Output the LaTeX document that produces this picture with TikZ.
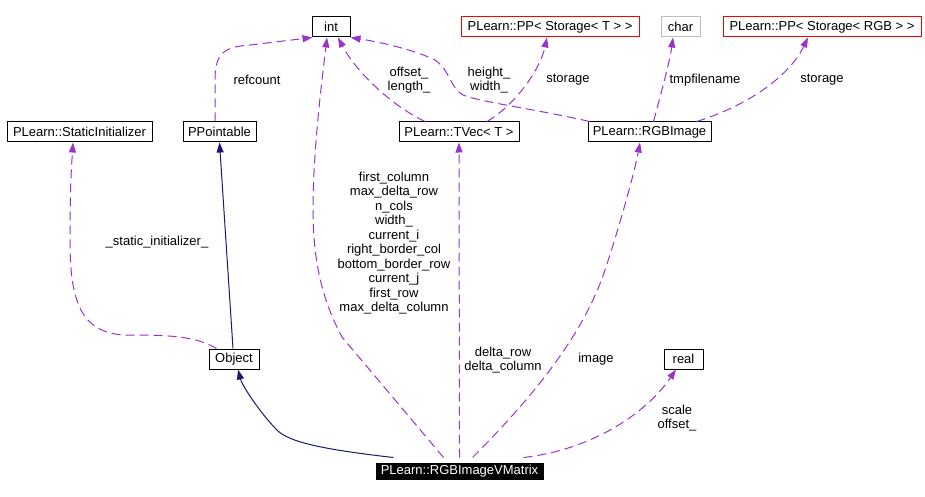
\documentclass[tikz,border=0pt]{standalone}
\usepackage{fontspec}
\setmainfont{Liberation Sans}
\usetikzlibrary{arrows.meta}
\definecolor{dorchid}{HTML}{9A32CD}
\definecolor{mblue}{HTML}{191970}
\begin{document}
\begin{tikzpicture}[x=1pt,y=-1pt,
  cls/.style={draw=black, line width=1pt, minimum height=20pt, inner sep=0pt, font=\fontsize{13}{14.5}\selectfont, text=black},
  redcls/.style={cls, draw=red},
  graycls/.style={cls, draw=black!25},
  mainnode/.style={cls, fill=black, text=white, minimum height=16pt},
  usage/.style={draw=dorchid, line width=1pt, dash pattern=on 9pt off 5pt, -{Triangle[length=10pt,width=7pt]}},
  inherit/.style={draw=mblue, line width=1pt, -{Triangle[length=10pt,width=7pt]}},
  lbl/.style={font=\fontsize{13}{14.5}\selectfont, align=center, inner sep=0pt, text=black}]
\useasboundingbox (0,0) rectangle (925,497);
% nodes
\node[cls, minimum width=38pt] (int) at (331,27) {int};
\node[redcls, minimum width=178pt] (ppT) at (550,27) {PLearn::PP< Storage< T > >};
\node[graycls, minimum width=39pt] (char) at (680.5,27) {char};
\node[redcls, minimum width=198pt] (ppRGB) at (822,27) {PLearn::PP< Storage< RGB > >};
\node[cls, minimum width=145pt] (static) at (79.5,132) {PLearn::StaticInitializer};
\node[cls, minimum width=73pt] (ppointable) at (219.5,132) {PPointable};
\node[cls, minimum width=120pt] (tvec) at (459,132) {PLearn::TVec< T >};
\node[cls, minimum width=123pt] (rgbimage) at (649.5,132) {PLearn::RGBImage};
\node[cls, minimum width=50pt] (object) at (234,359) {Object};
\node[cls, minimum width=39pt] (real) at (683.5,359) {real};
\node[mainnode, minimum width=167pt] (vmat) at (459.5,471) {PLearn::RGBImageVMatrix};
% edges
\draw[usage] ([xshift=-4.5pt]ppointable.north) -- (215,80) .. controls (215,52) and (225,47) .. (250,45) -- ([xshift=1pt]int.south west);
\draw[usage] ([xshift=8pt]object.north west) .. controls (195,336) and (170,335) .. (125,335) .. controls (80,333) and (70,300) .. (70,240) .. controls (70,180) and (72,160) .. ([xshift=-6.5pt]static.south);
\draw[inherit] ([xshift=-1pt]object.north) -- (ppointable.south);
\draw[inherit] ([xshift=-66pt,yshift=5pt]vmat.north) .. controls (310,448) and (285,440) .. (275,428) .. controls (258,410) and (242,385) .. ([xshift=4pt]object.south);
\draw[usage] ([xshift=-16pt,yshift=5pt]vmat.north) -- (342,337) .. controls (322,300) and (313,260) .. (313,210) .. controls (313,150) and (322,80) .. ([xshift=-4pt]int.south);
\draw[usage] ([yshift=5pt]vmat.north) -- (tvec.south);
\draw[usage] ([xshift=13pt,yshift=5pt]vmat.north) .. controls (540,390) and (585,330) .. (605,270) .. controls (620,225) and (635,170) .. ([xshift=-9.5pt]rgbimage.south);
\draw[usage] ([xshift=-20pt,yshift=5pt]vmat.north east) .. controls (590,450) and (645,415) .. ([xshift=-7.5pt]real.south);
\draw[usage] ([xshift=-34pt]tvec.north) .. controls (390,105) and (355,70) .. ([xshift=7pt]int.south);
\draw[usage] ([xshift=28pt]tvec.north) .. controls (515,105) and (540,70) .. ([xshift=-3pt]ppT.south);
\draw[usage] ([xshift=-60pt]rgbimage.north) .. controls (540,110) and (480,102) .. (463,95) .. controls (450,88) and (450,70) .. (435,60) .. controls (415,50) and (380,42) .. (int.south east);
\draw[usage] ([xshift=4pt]rgbimage.north) .. controls (662,90) and (670,60) .. ([xshift=-7.5pt]char.south);
\draw[usage] ([xshift=47pt]rgbimage.north) .. controls (750,105) and (790,75) .. ([xshift=-14pt]ppRGB.south);
% labels
\node[lbl] (l1) at (257,80) {refcount};
\node[lbl] (l2) at (157,242) {\_static\_initializer\_};
\node[lbl] (l3) at (394,243) {first\_column\\max\_delta\_row\\n\_cols\\width\_\\current\_i\\right\_border\_col\\bottom\_border\_row\\current\_j\\first\_row\\max\_delta\_column};
\node[lbl] (l4) at (409,80) {offset\_\\length\_};
\node[lbl] (l5) at (489,80) {height\_\\width\_};
\node[lbl] (l6) at (568,80) {storage};
\node[lbl] (l7) at (705,80) {tmpfilename};
\node[lbl] (l8) at (822,80) {storage};
\node[lbl] (l9) at (503,360) {delta\_row\\delta\_column};
\node[lbl] (l10) at (596,359) {image};
\node[lbl] (l11) at (677,418) {scale\\offset\_};
\end{tikzpicture}
\end{document}
